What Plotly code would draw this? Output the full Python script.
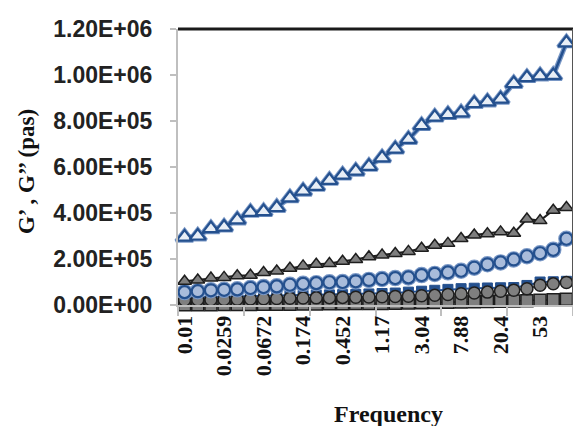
import plotly.graph_objects as go

freq_labels = ["0.01", "0.0137", "0.0189", "0.0259", "0.0356", "0.0489", "0.0672", "0.0924",
               "0.127", "0.174", "0.239", "0.329", "0.452", "0.621", "0.853", "1.17", "1.61",
               "2.21", "3.04", "4.18", "5.74", "7.88", "10.8", "14.9", "20.4", "28.1", "38.6",
               "53", "72.8", "100"]

g1_blue_tri = [2.95e5, 3.0e5, 3.32e5, 3.39e5, 3.7e5, 4.03e5, 4.06e5, 4.24e5, 4.66e5, 4.95e5,
               5.16e5, 5.42e5, 5.65e5, 5.82e5, 6.03e5, 6.4e5, 6.78e5, 7.2e5, 7.8e5, 8.17e5,
               8.28e5, 8.35e5, 8.76e5, 8.83e5, 8.95e5, 9.63e5, 9.89e5, 9.96e5, 9.98e5, 1.14e6]
g2_gray_tri = [1.03e5, 1.09e5, 1.17e5, 1.2e5, 1.27e5, 1.29e5, 1.41e5, 1.48e5, 1.6e5, 1.7e5,
               1.77e5, 1.8e5, 1.9e5, 1.98e5, 2.1e5, 2.17e5, 2.24e5, 2.33e5, 2.47e5, 2.6e5,
               2.68e5, 2.89e5, 3.04e5, 3.1e5, 3.18e5, 3.12e5, 3.74e5, 3.67e5, 4.12e5, 4.24e5]
g1_blue_circ = [5.6e4, 6.0e4, 6.4e4, 6.6e4, 6.8e4, 7.4e4, 7.8e4, 8.1e4, 8.8e4, 9.2e4,
                9.5e4, 9.9e4, 1.0e5, 1.03e5, 1.09e5, 1.13e5, 1.17e5, 1.2e5, 1.3e5, 1.35e5,
                1.42e5, 1.49e5, 1.62e5, 1.77e5, 1.85e5, 1.98e5, 2.12e5, 2.25e5, 2.4e5, 2.88e5]
g2_gray_circ = [2.2e4, 2.3e4, 2.3e4, 2.4e4, 2.5e4, 2.6e4, 2.7e4, 2.8e4, 2.9e4, 3.0e4,
                3.1e4, 3.2e4, 3.3e4, 3.4e4, 3.5e4, 3.6e4, 3.7e4, 3.8e4, 4.0e4, 4.2e4,
                4.6e4, 4.9e4, 5.2e4, 5.6e4, 6.0e4, 6.4e4, 7.1e4, 8.6e4, 9.2e4, 9.8e4]
g1_blue_sq = [3.3e4, 3.4e4, 3.5e4, 3.6e4, 3.7e4, 3.8e4, 3.9e4, 4.0e4, 4.1e4, 4.2e4,
              4.3e4, 4.4e4, 4.5e4, 4.6e4, 4.8e4, 5.0e4, 5.2e4, 5.6e4, 6.0e4, 6.4e4,
              6.8e4, 7.1e4, 7.3e4, 7.4e4, 7.5e4, 7.6e4, 8.5e4, 1.0e5, 1.01e5, 1.03e5]
g2_gray_sq = [1e3, 1e3, 1.5e3, 2e3, 2e3, 2.5e3, 3e3, 3e3, 3.5e3, 4e3,
              4.5e3, 5e3, 5.5e3, 6e3, 6.5e3, 7e3, 8e3, 9e3, 1.0e4, 1.1e4,
              1.2e4, 1.3e4, 1.4e4, 1.5e4, 1.6e4, 1.7e4, 1.9e4, 2.1e4, 2.3e4, 2.5e4]

y_tick_vals = [0, 2e5, 4e5, 6e5, 8e5, 1e6, 1.2e6]
y_tick_text = ["0.00E+00", "2.00E+05", "4.00E+05", "6.00E+05", "8.00E+05", "1.00E+06", "1.20E+06"]

x_title = "Frequency"
y_title = "G’ , G’’ (pas)"

x_idx = list(range(len(freq_labels)))
label_step = 3

BLUE = "#24508E"
BLUE_LIGHT = "#7A98C6"
GRAY = "#7F7F7F"
DARK = "#1E1E1E"

fig = go.Figure()

def add(y, color, lw, symbol, size, fill, mline, mlw):
    fig.add_trace(go.Scatter(
        x=x_idx, y=y, mode="lines+markers",
        line=dict(color=color, width=lw),
        marker=dict(symbol=symbol, size=size, color=fill,
                    line=dict(color=mline, width=mlw)),
        showlegend=False, cliponaxis=False))

# blue squares (mostly hidden)
add(g1_blue_sq, BLUE, 2, "square", 10, BLUE, BLUE, 1)
# gray squares
add(g2_gray_sq, DARK, 1.5, "square", 12, GRAY, DARK, 1.5)
# gray circles
add(g2_gray_circ, DARK, 1.5, "circle", 12, GRAY, DARK, 1.5)
# blue circles
add(g1_blue_circ, BLUE_LIGHT, 5, "circle", 13, "rgba(0,0,0,0)", BLUE_LIGHT, 3.5)
add(g1_blue_circ, BLUE, 2.5, "circle", 12, "#A9BCDB", BLUE, 2.2)
# gray triangles
add(g2_gray_tri, DARK, 2, "triangle-up", 12, GRAY, DARK, 1.5)
# blue triangles
add(g1_blue_tri, BLUE_LIGHT, 5, "triangle-up", 15, "rgba(0,0,0,0)", BLUE_LIGHT, 3.5)
add(g1_blue_tri, BLUE, 2.5, "triangle-up", 14, "#E8EEF6", BLUE, 2.2)

# page body adds an 8px margin; figure sized so plot area lands at x 178-573, y 21-305
fig.update_layout(
    width=573, height=418,
    margin=dict(l=170, r=8, t=13, b=121),
    paper_bgcolor="white", plot_bgcolor="white",
    xaxis=dict(
        range=[-0.5, len(freq_labels) - 0.5],
        tickmode="array",
        tickvals=x_idx[::label_step],
        ticktext=["<b>%s</b>" % t for t in freq_labels[::label_step]],
        tickangle=-90,
        ticks="",
        ticklen=0,
        showgrid=False, zeroline=False,
        showline=True, linecolor="#BFBFBF", linewidth=2,
        tickfont=dict(family="Liberation Serif", size=22, color="#111111"),
        minor=dict(ticks="outside", tick0=-0.5, dtick=5, ticklen=9,
                   tickcolor="#BFBFBF", tickwidth=2, showgrid=False),
    ),
    yaxis=dict(
        range=[0, 1.2e6],
        tickmode="array",
        tickvals=y_tick_vals,
        ticktext=["<b>%s</b>" % t for t in y_tick_text],
        ticks="outside", ticklen=6, tickcolor="#BFBFBF", tickwidth=2,
        ticklabelstandoff=13,
        showgrid=False, zeroline=False,
        showline=True, linecolor="#BFBFBF", linewidth=2,
        tickfont=dict(family="Liberation Sans", size=23, color="#222222"),
    ),
    annotations=[
        dict(text="<b>%s</b>" % x_title, xref="paper", yref="paper",
             x=0.534, y=-0.395, xanchor="center", yanchor="middle", showarrow=False,
             font=dict(family="Liberation Serif", size=24, color="#111111")),
        dict(text="<b>%s</b>" % y_title, xref="paper", yref="paper",
             x=-0.382, y=0.482, xanchor="center", yanchor="middle", showarrow=False,
             textangle=-90,
             font=dict(family="Liberation Serif", size=23, color="#111111")),
    ],
    shapes=[
        dict(type="line", xref="paper", yref="paper", x0=0, x1=1, y0=1, y1=1,
             line=dict(color="#1A1A1A", width=3)),
        dict(type="line", xref="paper", yref="paper", x0=1, x1=1, y0=0, y1=1,
             line=dict(color="#555555", width=2)),
    ],
)

fig.write_html("out.html")
